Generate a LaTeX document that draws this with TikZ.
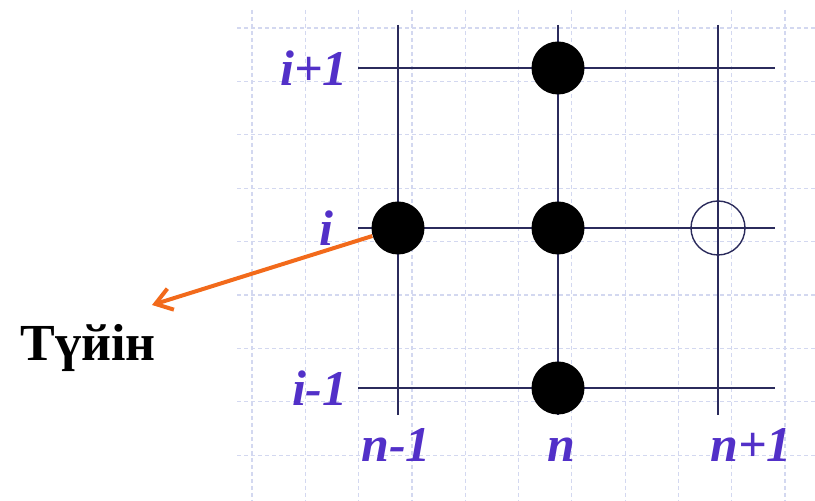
\documentclass[tikz,border=0pt]{standalone}
\usepackage{fontspec}
\setmainfont{Liberation Serif}
\usetikzlibrary{arrows.meta, positioning}
\definecolor{gridblue}{HTML}{D3D8F0}
\definecolor{meshdark}{HTML}{2B2B5C}
\definecolor{labelviolet}{HTML}{5230C8}
\definecolor{pointerorange}{HTML}{F26A1B}

\begin{document}
\begin{tikzpicture}[
  x=0.5pt, y=-0.5pt,
  meshline/.style={line width=1pt, meshdark},
  gridline/.style={line width=0.6pt, gridblue, dash pattern=on 2pt off 1.5pt},
  knot/.style={circle, fill=black, minimum size=26.5pt, inner sep=0pt},
  freeknot/.style={circle, draw=meshdark, line width=0.7pt, minimum size=27pt, inner sep=0pt},
  idx/.style={font=\fontsize{25}{25}\selectfont\bfseries\itshape, text=labelviolet, inner sep=0pt},
  pointer/.style={line width=2pt, pointerorange, -{Straight Barb[length=8pt, width=11pt]}}
]
  \useasboundingbox (0,0) rectangle (815,501);

  % Background grid
  \foreach \gx in {0,...,10}
    \draw[gridline] ({252+53.3*\gx},10) -- ({252+53.3*\gx},501);
  \foreach \gy in {0,...,8}
    \draw[gridline] (237,{28+53.4*\gy}) -- (815,{28+53.4*\gy});

  % Mesh lines
  \foreach \mx in {398,558,718}
    \draw[meshline] (\mx,25) -- (\mx,415);
  \foreach \my in {68,228,388}
    \draw[meshline] (358,\my) -- (775,\my);

  % Row and column indices
  \node[idx, anchor=base east] (rowup) at (348,86) {i+1};
  \node[idx, anchor=base east] (rowmid) at (334,246) {i};
  \node[idx, anchor=base east] (rowdown) at (348,406) {i-1};
  \node[idx, anchor=base] (colleft) at (396,462) {n-1};
  \node[idx, anchor=base] (colmid) at (561,462) {n};
  \node[idx, anchor=base] (colright) at (751,462) {n+1};

  % Stencil points
  \node[knot] (kup) at (558,68) {};
  \node[knot] (kleft) at (398,228) {};
  \node[knot] (kmid) at (558,228) {};
  \node[knot] (kdown) at (558,388) {};
  \node[freeknot] (kright) at (718,228) {};

  % Pointer to the node
  \node[font=\fontsize{26}{26}\selectfont\bfseries] (knotname) at (88,348) {Түйін};
  \coordinate (tip) at (152,305);
  \draw[pointer] (kleft) -- (tip);
\end{tikzpicture}
\end{document}
